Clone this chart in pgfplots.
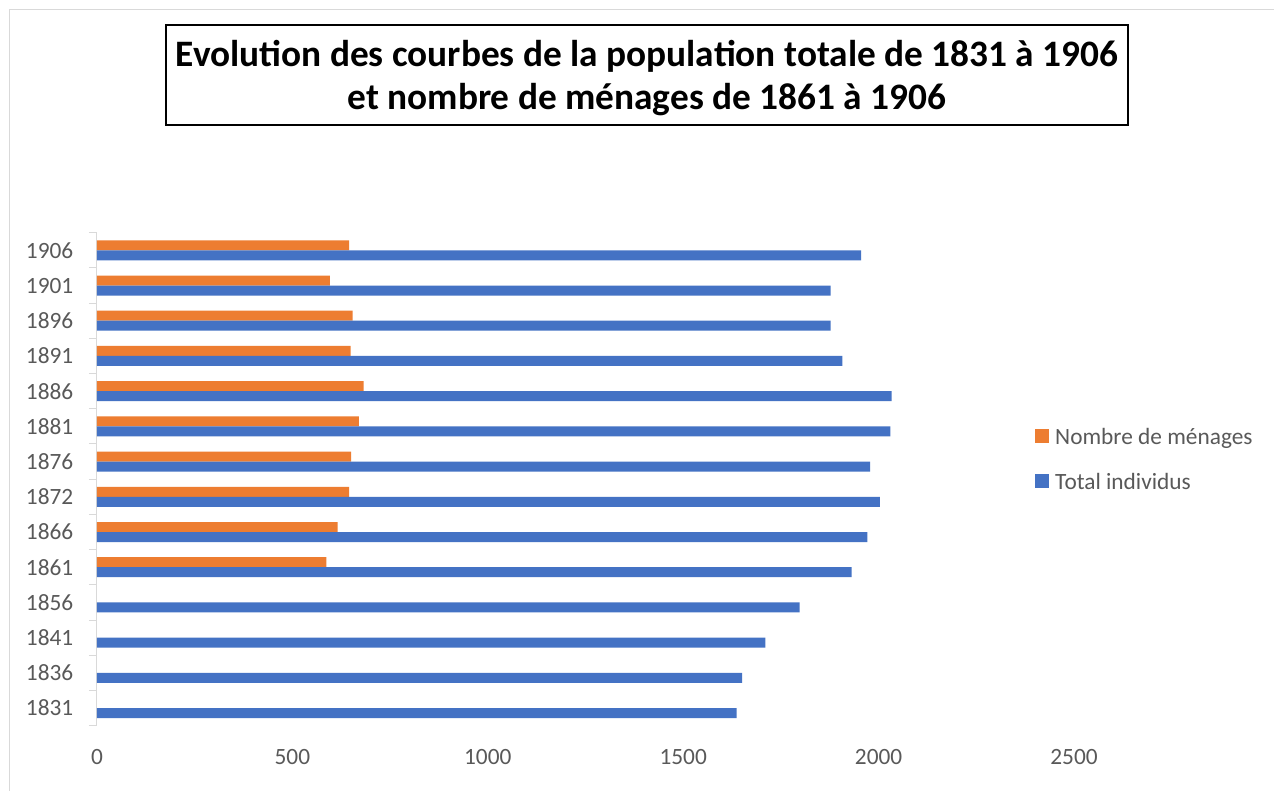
\documentclass[border=0pt]{standalone}
\usepackage{fontspec}
\setmainfont{Carlito}
\usepackage{pgfplots}
\pgfplotsset{compat=1.18}
\usepackage{pgfplotstable}
\definecolor{cblue}{HTML}{4472C4}
\definecolor{corange}{HTML}{ED7D31}
\definecolor{ctext}{HTML}{595959}
\definecolor{cgrid}{HTML}{D9D9D9}

\pgfplotstableread{
idx val
0 1637
1 1651
2 1710
3 1798
4 1931
5 1971
6 2003
7 1978
8 2030
9 2033
10 1907
11 1877
12 1877
13 1955
}\totaldata

\pgfplotstableread{
idx val
4 587
5 616
6 645
7 650
8 670
9 682
10 649
11 654
12 596
13 645
}\menagesdata

\begin{document}
\begin{tikzpicture}
\begin{scope}[x=0.75pt,y=0.75pt]
\path[use as bounding box, fill=white] (0,0) rectangle (1274,791);
\draw[cgrid, line width=0.75pt] (9.5,0) -- (9.5,781) -- (1274,781);
\draw[black, line width=1.1pt] (166,666) rectangle (1128,766);
\node[align=center, font=\fontsize{28}{32.5}\selectfont\bfseries, inner sep=0pt, anchor=base]
  at (647,681) {Evolution des courbes de la population totale de 1831 à 1906\\et nombre de ménages de 1861 à 1906};
\end{scope}
\begin{axis}[
  at={(72.75pt,48.975pt)}, anchor=south west,
  scale only axis, width=732.75pt, height=369.75pt,
  xbar, bar width=7.5pt,
  xmin=0, xmax=2500, ymin=-0.5, ymax=13.5,
  xtick={0,500,...,2500},
  ytick={0,...,13},
  yticklabels={1831,1836,1841,1856,1861,1866,1872,1876,1881,1886,1891,1896,1901,1906},
  minor ytick={-0.5,0.5,...,13.5},
  axis lines*=left,
  x axis line style={draw=none},
  y axis line style={draw=cgrid, line width=0.75pt},
  tick align=outside,
  major tick length=0pt,
  minor tick length=6pt,
  xtick style={draw=none},
  ytick style={draw=none},
  minor y tick style={draw=cgrid, line width=0.75pt},
  /pgf/number format/assume math mode=true,
  /pgf/number format/1000 sep={},
  ticklabel style={font=\fontsize{17.5}{21}\selectfont, text=ctext},
  yticklabel style={inner sep=0pt, xshift=-17.6pt},
  xticklabel style={inner sep=0pt, yshift=-17.7pt},
  legend style={at={(0.960,0.536)}, anchor=west, draw=none, fill=none,
    inner sep=0pt, column sep=4.5pt, row sep=17.75pt,
    font=\fontsize{17.5}{21}\selectfont, text=ctext,
    nodes={inner sep=0pt, text height=12pt, text depth=4pt}},
  legend cell align=left,
  legend image code/.code={\fill[#1] (0pt,-3pt) rectangle (10.5pt,7.5pt);},
]
\addplot[fill=corange, draw=none, bar shift=3.75pt] table[x=val, y=idx] {\menagesdata};
\addlegendentry{Nombre de ménages}
\addplot[fill=cblue, draw=none, bar shift=-3.75pt] table[x=val, y=idx] {\totaldata};
\addlegendentry{Total individus}
\end{axis}
\end{tikzpicture}
\end{document}
